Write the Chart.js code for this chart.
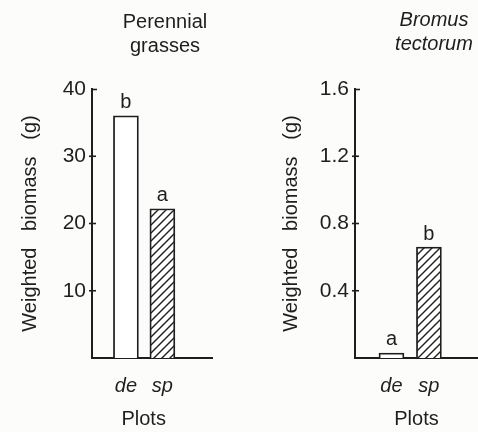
<!DOCTYPE html>
<html>
<head>
<meta charset="utf-8">
<script src="https://cdn.jsdelivr.net/npm/chart.js@4/dist/chart.umd.min.js"></script>
<style>
  html, body { margin: 0; padding: 0; background: #fcfcfb; overflow: hidden; width: 478px; height: 432px; }
  canvas { position: absolute; top: 0; }
  #grass { left: 0; }
  #bromus { left: 240px; }
</style>
</head>
<body>
<canvas id="grass" width="330" height="432"></canvas>
<canvas id="bromus" width="388" height="432"></canvas>
<script>
// Plot types shared by both panels
const plots = ['de', 'sp'];

// Perennial grasses
const grassBiomass = [36.0, 22.2];
const grassLetters = ['b', 'a'];
const grassTicks = [10, 20, 30, 40];

// Bromus tectorum
const bromusBiomass = [0.03, 0.66];
const bromusLetters = ['a', 'b'];
const bromusTicks = [0.4, 0.8, 1.2, 1.6];

const INK = '#1e1e1e';
const FAMILY = "'Liberation Sans', Arial, Helvetica, sans-serif";
Chart.defaults.font.family = FAMILY;
Chart.defaults.color = INK;

// Diagonal hatch fill for the "sp" bars
function makeHatch() {
  const c = document.createElement('canvas');
  c.width = 8; c.height = 8;
  const g = c.getContext('2d');
  g.fillStyle = '#ffffff';
  g.fillRect(0, 0, 8, 8);
  g.strokeStyle = INK;
  g.lineWidth = 1.4;
  g.beginPath();
  g.moveTo(0, 8); g.lineTo(8, 0);
  g.moveTo(-2, 2); g.lineTo(2, -2);
  g.moveTo(6, 10); g.lineTo(10, 6);
  g.stroke();
  return g.createPattern(c, 'repeat');
}
const hatch = makeHatch();

// Significance letters above each bar
const sigLetters = {
  id: 'sigLetters',
  afterDatasetsDraw(chart, args, opts) {
    const meta = chart.getDatasetMeta(0);
    const c = chart.ctx;
    c.save();
    c.fillStyle = INK;
    c.font = '20px ' + FAMILY;
    c.textAlign = 'center';
    c.textBaseline = 'middle';
    meta.data.forEach((bar, i) => {
      c.fillText(opts.letters[i], bar.x, bar.y - 13);
    });
    c.restore();
  }
};

// Short tick marks crossing the y axis, with a hook at the top value
const crossTicks = {
  id: 'crossTicks',
  afterDraw(chart) {
    const s = chart.scales.y;
    const c = chart.ctx;
    c.save();
    c.strokeStyle = INK;
    c.lineWidth = 1.6;
    s.ticks.forEach(t => {
      const y = s.getPixelForValue(t.value);
      c.beginPath();
      if (t.value === s.max) {
        c.moveTo(s.right - 1, y + 0.5);
        c.lineTo(s.right + 5, y + 0.5);
      } else {
        c.moveTo(s.right - 3, y);
        c.lineTo(s.right + 4, y);
      }
      c.stroke();
    });
    c.restore();
  }
};

function makePanel(id, cfg) {
  return new Chart(document.getElementById(id), {
    type: 'bar',
    data: {
      datasets: [{
        data: cfg.values.map((v, i) => ({ x: i + 1, y: v })),
        backgroundColor: ['#ffffff', hatch],
        borderColor: INK,
        borderWidth: 1.8,
        borderSkipped: 'bottom',
        barThickness: 25
      }]
    },
    options: {
      responsive: false,
      animation: false,
      devicePixelRatio: 1,
      layout: { padding: 0 },
      plugins: {
        legend: { display: false },
        tooltip: { enabled: false },
        title: {
          display: true,
          text: cfg.title,
          color: INK,
          font: { size: 20, style: cfg.titleStyle, weight: 'normal', lineHeight: 1.2 },
          padding: { top: cfg.titleTop, bottom: cfg.titleBottom }
        },
        sigLetters: { letters: cfg.letters }
      },
      scales: {
        x: {
          type: 'linear',
          offset: false,
          min: cfg.xMin,
          max: cfg.xMax,
          afterBuildTicks: s => { s.ticks = plots.map((p, i) => ({ value: i + 1 })); },
          ticks: {
            callback: v => plots[v - 1],
            font: { size: 20, style: 'italic' },
            color: INK,
            padding: 16,
            maxRotation: 0,
            autoSkip: false
          },
          grid: { display: false, drawTicks: false },
          border: { color: INK, width: 2 },
          title: {
            display: true,
            text: cfg.xTitle,
            color: INK,
            font: { size: 20 },
            padding: { top: 0, bottom: 1 }
          },
          afterFit: s => { s.height = 74; }
        },
        y: {
          type: 'linear',
          min: 0,
          max: cfg.yMax,
          afterBuildTicks: s => { s.ticks = cfg.ticks.map(v => ({ value: v })); },
          ticks: { callback: cfg.fmt, font: { size: 21 }, color: INK, padding: 6 },
          grid: { display: false, drawTicks: false },
          border: { color: INK, width: 2 },
          title: {
            display: true,
            text: 'Weighted   biomass   (g)',
            color: INK,
            font: { size: 20 },
            padding: { top: cfg.yTitlePad, bottom: 0 }
          },
          afterFit: s => { s.width = cfg.yWidth; }
        },
        spacer: {
          type: 'linear',
          position: 'right',
          display: true,
          ticks: { display: false },
          grid: { display: false, drawTicks: false },
          border: { display: false },
          afterFit: s => { s.width = cfg.rightSpace; }
        }
      }
    },
    plugins: [sigLetters, crossTicks]
  });
}

makePanel('grass', {
  values: grassBiomass,
  letters: grassLetters,
  ticks: grassTicks,
  yMax: 40,
  fmt: v => String(v),
  title: ['Perennial', 'grasses'],
  titleStyle: 'normal',
  titleTop: 10,
  titleBottom: 31,
  xTitle: 'Plots   ',
  xMin: 0.07,
  xMax: 3.36,
  yWidth: 92,
  yTitlePad: 18,
  rightSpace: 118
});

makePanel('bromus', {
  values: bromusBiomass,
  letters: bromusLetters,
  ticks: bromusTicks,
  yMax: 1.6,
  fmt: v => v.toFixed(1),
  title: ['Bromus', 'tectorum'],
  titleStyle: 'italic',
  titleTop: 8,
  titleBottom: 33,
  xTitle: 'Plots',
  xMin: 0.027,
  xMax: 3.31,
  yWidth: 115,
  yTitlePad: 39,
  rightSpace: 150
});
</script>
</body>
</html>
